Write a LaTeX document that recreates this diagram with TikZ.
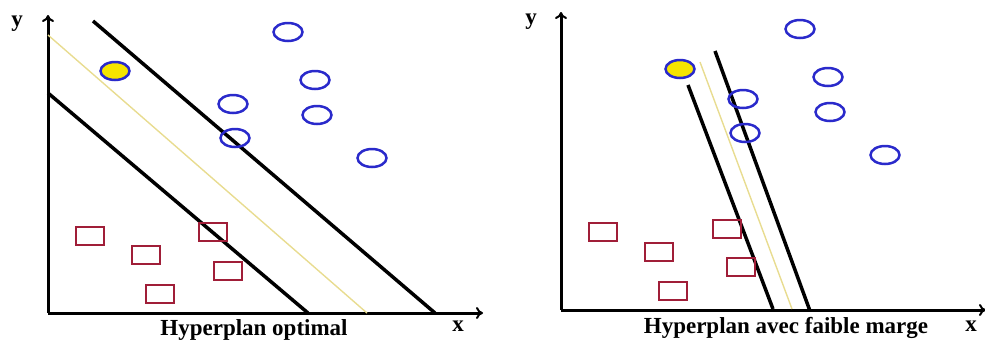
\documentclass[tikz,border=0pt]{standalone}
\usepackage{fontspec}
\setmainfont{Liberation Serif}
\usetikzlibrary{arrows.meta,shapes.geometric}
\definecolor{ptblue}{HTML}{2A2ACB}
\definecolor{ptred}{HTML}{A01E38}
\definecolor{ptyellow}{HTML}{F6E500}
\definecolor{hypyellow}{HTML}{E8DC90}
\tikzset{
  axis/.style={line width=3pt,-{To[length=7pt,width=12pt,line width=2pt]}},
  marginline/.style={line width=3.5pt,black},
  hypline/.style={line width=1.4pt,hypyellow},
  bluept/.style={ellipse,draw=ptblue,line width=2.5pt,minimum width=29pt,minimum height=18pt,inner sep=0pt},
  yellowpt/.style={bluept,fill=ptyellow},
  redpt/.style={rectangle,draw=ptred,line width=2.5pt,minimum width=28pt,minimum height=18pt,inner sep=0pt},
  caption/.style={font=\bfseries\fontsize{23}{28}\selectfont,anchor=base,inner sep=0pt},
  axlabel/.style={font=\bfseries\fontsize{23}{26}\selectfont,inner sep=0pt}
}
\begin{document}
\begin{tikzpicture}[x=1pt,y=-1pt]
\useasboundingbox (0,0) rectangle (985,341);
% ---------------- left panel ----------------
\coordinate (lo) at (48,313);
\coordinate (ly) at (48,15);
\coordinate (lx) at (483,313);
\draw[axis] (lo) -- (ly);
\draw[axis] (lo) -- (lx);
\node[axlabel] (lylab) at (17,24) {y};
\node[axlabel] (lxlab) at (458,326) {x};
\coordinate (la1) at (93,21);  \coordinate (la2) at (435,313);
\coordinate (lb1) at (48,93);  \coordinate (lb2) at (308,313);
\coordinate (lc1) at (48,35);  \coordinate (lc2) at (367,313);
\draw[hypline] (lc1) -- (lc2);
\draw[marginline] (la1) -- (la2);
\draw[marginline] (lb1) -- (lb2);
\node[yellowpt] (ls) at (115,71) {};
\node[bluept] (lc1n) at (288,32) {};
\node[bluept] (lc2n) at (315,80) {};
\node[bluept] (lc3n) at (233,104) {};
\node[bluept] (lc4n) at (317,115) {};
\node[bluept] (lc5n) at (235,138) {};
\node[bluept] (lc6n) at (372,158) {};
\node[redpt] (lr1) at (90,236) {};
\node[redpt] (lr2) at (146,255) {};
\node[redpt] (lr3) at (160,294) {};
\node[redpt] (lr4) at (213,232) {};
\node[redpt] (lr5) at (228,271) {};
\node[caption] (lcap) at (254,335) {Hyperplan optimal};
% ---------------- right panel ----------------
\coordinate (ro) at (561,310);
\coordinate (ry) at (561,12);
\coordinate (rx) at (986,310);
\draw[axis] (ro) -- (ry);
\draw[axis] (ro) -- (rx);
\node[axlabel] (rylab) at (531,22) {y};
\node[axlabel] (rxlab) at (971,326) {x};
\coordinate (ra1) at (688,85);  \coordinate (ra2) at (773,309);
\coordinate (rb1) at (715,51);  \coordinate (rb2) at (810,311);
\coordinate (rc1) at (700,62);  \coordinate (rc2) at (792,309);
\draw[hypline] (rc1) -- (rc2);
\draw[marginline] (ra1) -- (ra2);
\draw[marginline] (rb1) -- (rb2);
\node[yellowpt] (rs) at (680,69) {};
\node[bluept] (rc1n) at (800,29) {};
\node[bluept] (rc2n) at (828,77) {};
\node[bluept] (rc3n) at (743,99) {};
\node[bluept] (rc4n) at (830,112) {};
\node[bluept] (rc5n) at (745,133) {};
\node[bluept] (rc6n) at (885,155) {};
\node[redpt] (rr1) at (603,232) {};
\node[redpt] (rr2) at (659,252) {};
\node[redpt] (rr3) at (673,291) {};
\node[redpt] (rr4) at (727,229) {};
\node[redpt] (rr5) at (741,267) {};
\node[caption] (rcap) at (786,333) {Hyperplan avec faible marge};
\end{tikzpicture}
\end{document}
